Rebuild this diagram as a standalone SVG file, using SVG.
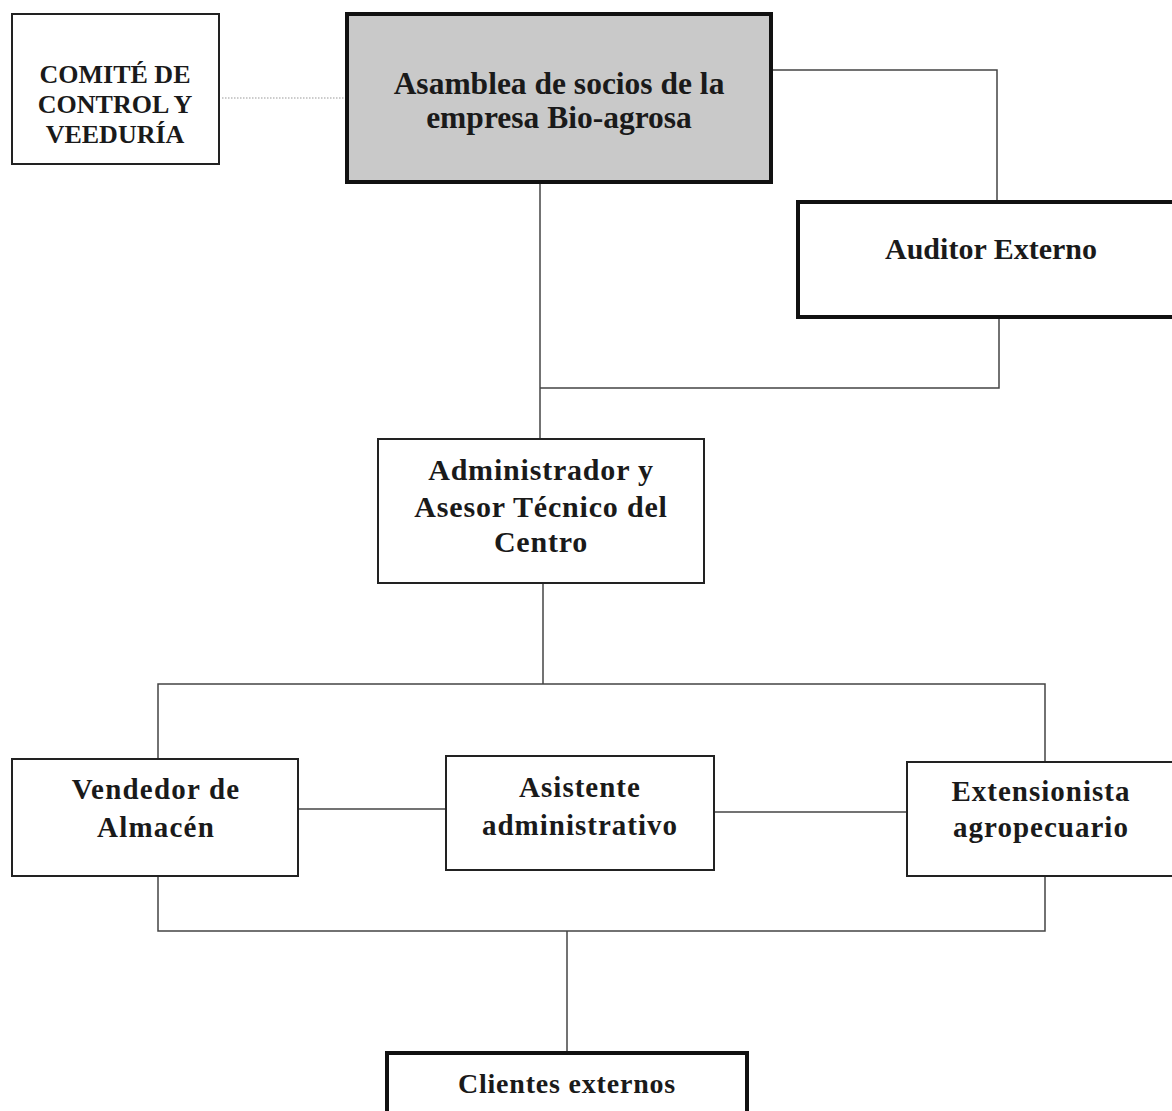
<svg xmlns="http://www.w3.org/2000/svg" width="1172" height="1111" viewBox="0 0 1172 1111">
<style>
  .box{fill:#fff;stroke:#222;stroke-width:2}
  .thick{fill:#fff;stroke:#111;stroke-width:4}
  .t{font-family:"Liberation Serif","Times New Roman",serif;font-weight:bold;fill:#1a1a1a;text-anchor:middle}
  .c{fill:none;stroke:#444;stroke-width:1.5}
</style>
<rect width="1172" height="1111" fill="#fff"/>
<g id="connectors">
  <line class="c" x1="222" y1="98" x2="347" y2="98" stroke-dasharray="1.5 1.5" style="stroke:#999;stroke-width:1.2"/>
  <polyline class="c" points="772,70 997,70 997,201"/>
  <line class="c" x1="540" y1="183" x2="540" y2="439"/>
  <polyline class="c" points="540,388 999,388 999,317"/>
  <line class="c" x1="543" y1="583" x2="543" y2="684"/>
  <polyline class="c" points="158,760 158,684 1045,684 1045,763"/>
  <line class="c" x1="298" y1="809" x2="446" y2="809"/>
  <line class="c" x1="714" y1="812" x2="907" y2="812"/>
  <polyline class="c" points="158,876 158,931 1045,931 1045,876"/>
  <line class="c" x1="567" y1="931" x2="567" y2="1053"/>
</g>
<g id="comite">
  <rect class="box" x="12" y="14" width="207" height="150"/>
  <text class="t" font-size="26" x="115" y="83">COMITÉ DE</text>
  <text class="t" font-size="26" x="115" y="113">CONTROL Y</text>
  <text class="t" font-size="26" x="115" y="143">VEEDURÍA</text>
</g>
<g id="asamblea">
  <rect x="347" y="14" width="424" height="168" fill="#c9c9c9" stroke="#111" stroke-width="4"/>
  <text class="t" font-size="31.5" x="559" y="94">Asamblea de socios de la</text>
  <text class="t" font-size="31.5" x="559" y="128">empresa Bio-agrosa</text>
</g>
<g id="auditor">
  <rect class="thick" x="798" y="202" width="380" height="115"/>
  <text class="t" font-size="30" x="991" y="259">Auditor Externo</text>
</g>
<g id="administrador">
  <rect class="box" x="378" y="439" width="326" height="144"/>
  <text class="t" font-size="30" letter-spacing="0.8" x="541" y="480">Administrador y</text>
  <text class="t" font-size="30" letter-spacing="0.8" x="541" y="517">Asesor Técnico del</text>
  <text class="t" font-size="30" letter-spacing="0.8" x="541" y="552">Centro</text>
</g>
<g id="vendedor">
  <rect class="box" x="12" y="759" width="286" height="117"/>
  <text class="t" font-size="29" letter-spacing="1.2" x="156" y="799">Vendedor de</text>
  <text class="t" font-size="29" letter-spacing="1.2" x="156" y="837">Almacén</text>
</g>
<g id="asistente">
  <rect class="box" x="446" y="756" width="268" height="114"/>
  <text class="t" font-size="29" letter-spacing="1" x="580" y="797">Asistente</text>
  <text class="t" font-size="29" letter-spacing="1" x="580" y="835">administrativo</text>
</g>
<g id="extensionista">
  <rect class="box" x="907" y="762" width="270" height="114"/>
  <text class="t" font-size="29" letter-spacing="1" x="1041" y="801">Extensionista</text>
  <text class="t" font-size="29" letter-spacing="1" x="1041" y="837">agropecuario</text>
</g>
<g id="clientes">
  <rect class="thick" x="387" y="1053" width="360" height="70"/>
  <text class="t" font-size="28" letter-spacing="0.8" x="567" y="1093">Clientes externos</text>
</g>
</svg>
